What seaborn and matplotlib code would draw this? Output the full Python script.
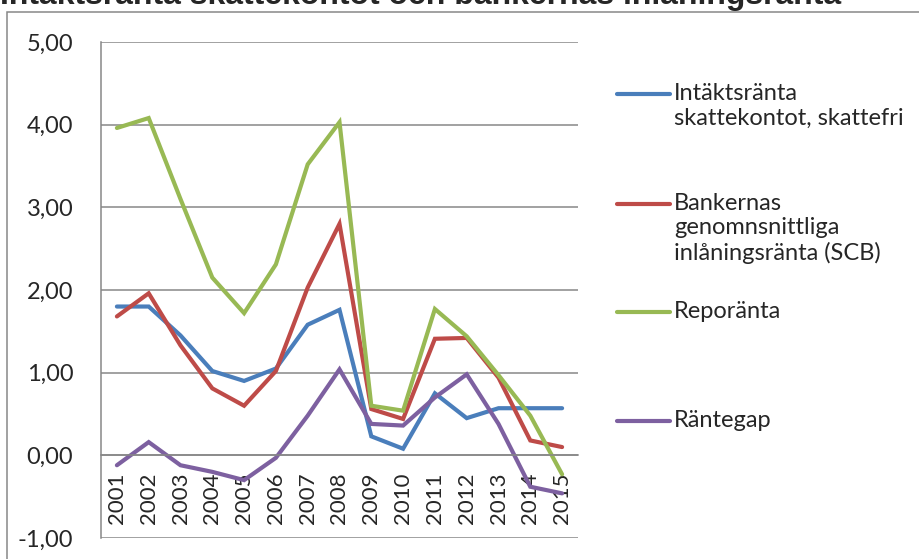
import numpy as np
import pandas as pd
import matplotlib
matplotlib.use("Agg")
import matplotlib.pyplot as plt
from matplotlib.lines import Line2D
from matplotlib.patches import Rectangle
import seaborn as sns

years = ["2001", "2002", "2003", "2004", "2005", "2006", "2007", "2008",
         "2009", "2010", "2011", "2012", "2013", "2014", "2015"]
intakt = [1.80, 1.80, 1.45, 1.02, 0.90, 1.05, 1.58, 1.76, 0.23, 0.08, 0.75, 0.45, 0.57, 0.57, 0.57]
bank = [1.68, 1.96, 1.33, 0.81, 0.60, 1.02, 2.03, 2.80, 0.56, 0.44, 1.41, 1.42, 0.94, 0.18, 0.10]
repo = [3.96, 4.08, 3.10, 2.15, 1.72, 2.31, 3.52, 4.03, 0.60, 0.54, 1.77, 1.44, 0.97, 0.48, -0.23]
gap = [-0.12, 0.16, -0.12, -0.20, -0.30, -0.03, 0.48, 1.04, 0.38, 0.36, 0.70, 0.98, 0.38, -0.38, -0.46]

series_names = ["Intäktsränta\nskattekontot, skattefri",
                "Bankernas\ngenomnsnittliga\ninlåningsränta (SCB)",
                "Reporänta",
                "Räntegap"]
colors = ["#4A7EBB", "#BE4B48", "#98B954", "#7D60A0"]
title = "Intäktsränta skattekontot och bankernas inlåningsränta"
yticks = [-1, 0, 1, 2, 3, 4, 5]

rows = []
for name, vals in zip(series_names, [intakt, bank, repo, gap]):
    for i, v in enumerate(vals):
        rows.append({"x": i, "value": v, "serie": name})
df = pd.DataFrame(rows)

sns.set_style("white")
plt.rcParams['font.family'] = ['Lato', 'DejaVu Sans']

fig = plt.figure(figsize=(9.19, 5.59), dpi=100)
ax = fig.add_axes([101/919, 1 - 538/559, (578 - 101)/919, (538 - 42)/559])

sns.lineplot(data=df, x="x", y="value", hue="serie", palette=colors,
             hue_order=series_names, linewidth=3.0, ax=ax, legend=False,
             solid_capstyle="round", solid_joinstyle="miter")

ax.set_xlim(-0.5, 14.5)
ax.set_ylim(-1, 5)
ax.set_yticks(yticks)
ax.set_yticklabels([f"{v:.2f}".replace(".", ",") for v in yticks], fontsize=17)
ax.yaxis.grid(True, color="#878787", linewidth=1.1)
ax.set_axisbelow(True)
ax.set_xlabel("")
ax.set_ylabel("")

for s in ["top", "right"]:
    ax.spines[s].set_visible(False)
ax.spines["left"].set_color("#878787")
ax.spines["left"].set_linewidth(1.1)
ax.spines["bottom"].set_color("#878787")
ax.spines["bottom"].set_linewidth(1.1)
ax.spines["bottom"].set_position(("data", 0))

ax.set_xticks(range(len(years)))
ax.set_xticklabels(years, rotation=90, fontsize=16)
ax.set_xticks(np.arange(-0.5, len(years), 1.0), minor=True)
ax.tick_params(axis="x", which="major", length=0, pad=12)
ax.tick_params(axis="x", which="minor", length=8, color="#878787", width=1.1, direction="out")
ax.tick_params(axis="y", length=8, color="#878787", width=1.1, pad=12)

# Legend (drawn manually, Excel style)
legend_y = [94, 204, 312, 421]
for name, col, yp in zip(series_names, colors, legend_y):
    yf = 1 - yp / 559
    fig.add_artist(Line2D([617/919, 670/919], [yf, yf], color=col, linewidth=3.0,
                          solid_capstyle="round", transform=fig.transFigure))
    fig.text(674/919, yf + 11/559, name, fontsize=17, ha="left", va="top",
             linespacing=1.2)

# Outer frame
fig.add_artist(Rectangle((7/919, -0.1), 1.2, 1 - 12/559 + 0.1, transform=fig.transFigure,
                         fill=False, edgecolor="#878787", linewidth=1.1))

fig.text(0.0, 1 - 4/559, title, fontsize=23, fontweight="bold",
         family=["Liberation Sans", "DejaVu Sans"], ha="left", va="baseline")

fig.savefig("out.png", dpi=100)
